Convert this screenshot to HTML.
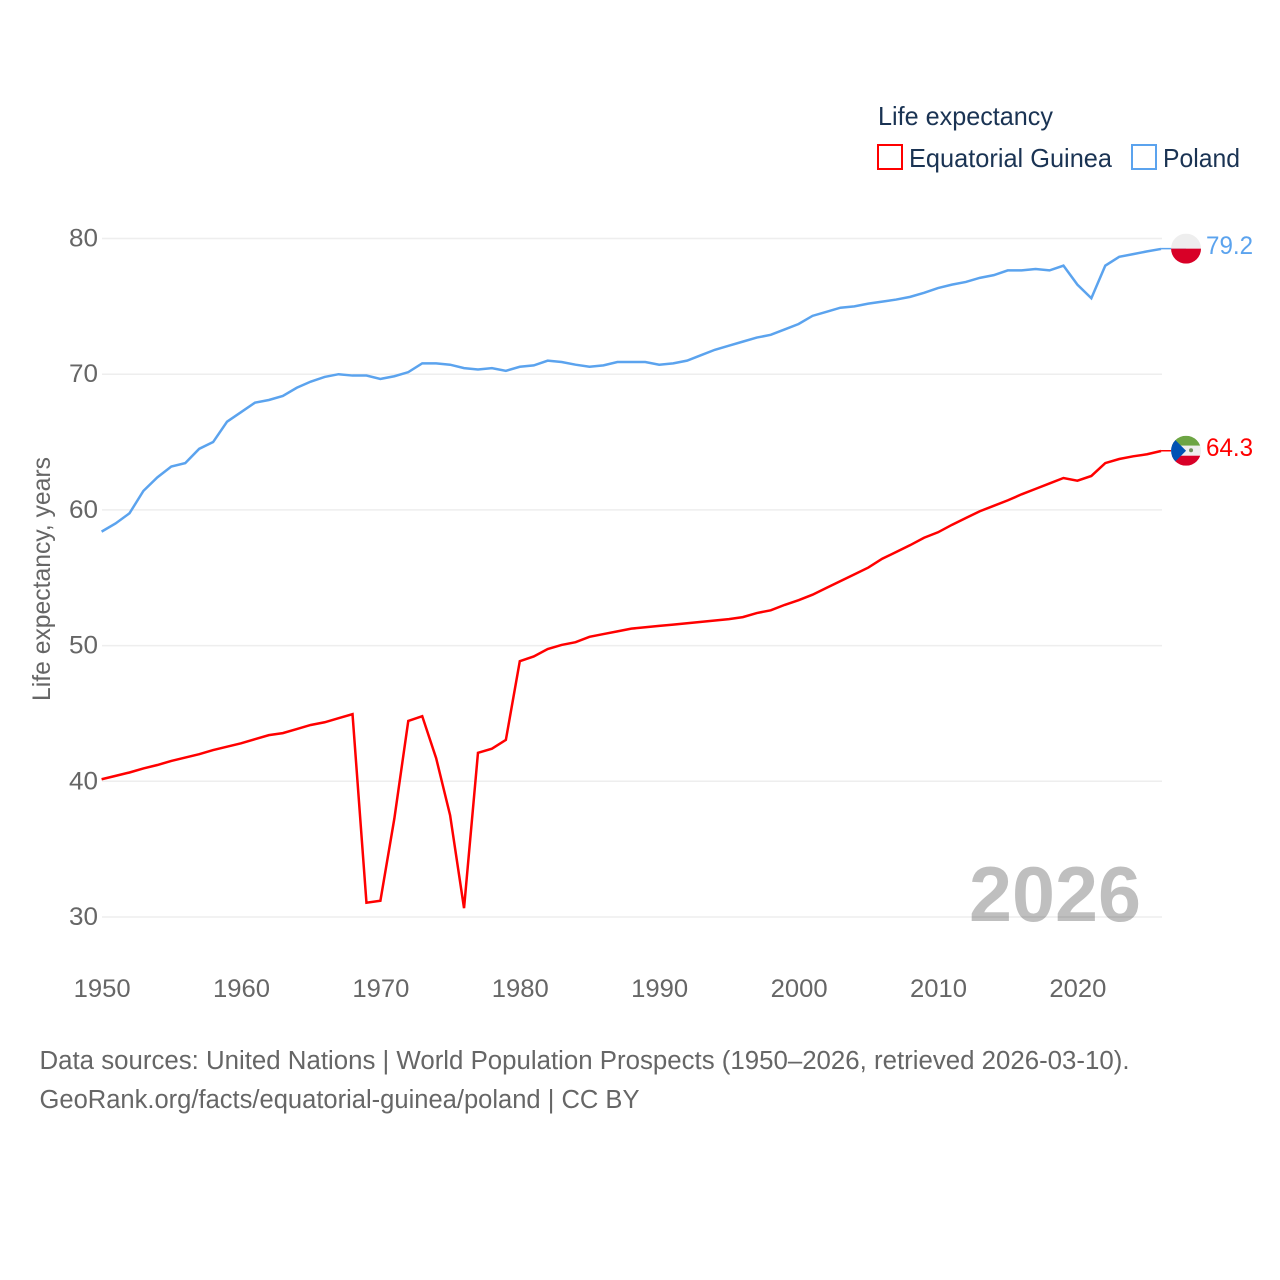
<!DOCTYPE html>
<html lang="en">
<head>
<meta charset="utf-8">
<title>Life expectancy: Equatorial Guinea and Poland</title>
<style>
  html, body { margin: 0; padding: 0; background: #fff; }
  svg { display: block; font-family: "Liberation Sans", sans-serif; }
</style>
</head>
<body>
<svg id="chart" xmlns="http://www.w3.org/2000/svg" width="1280" height="1280" viewBox="0 0 1280 1280">
  <rect x="0" y="0" width="1280" height="1280" fill="#ffffff"/>
  <defs>
    <clipPath id="clip-poland"><circle id="clip-poland-circle" r="15"/></clipPath>
    <clipPath id="clip-guinea"><circle id="clip-guinea-circle" r="15"/></clipPath>
  </defs>
  <g id="grid"></g>
  <g id="y-axis"></g>
  <g id="x-axis"></g>
  <text transform="translate(50,701) rotate(-90)" font-size="25" fill="#666666" textLength="244" lengthAdjust="spacingAndGlyphs">Life expectancy, years</text>
  <text x="969" y="921" font-size="78" font-weight="700" fill="#000000" fill-opacity="0.25" textLength="172" lengthAdjust="spacingAndGlyphs">2026</text>
  <g id="series"></g>
  <g id="endpoints"></g>

  <g>
    <text x="878" y="125" font-size="26" fill="#1a3353" textLength="175" lengthAdjust="spacingAndGlyphs">Life expectancy</text>
    <g>
      <rect x="878" y="145" width="24" height="24" fill="none" stroke="#ff0000" stroke-width="2"/>
      <text x="909" y="167" font-size="26" fill="#1a3353" textLength="203" lengthAdjust="spacingAndGlyphs">Equatorial Guinea</text>
    </g>
    <g>
      <rect x="1132" y="145" width="24" height="24" fill="none" stroke="#5ba3ee" stroke-width="2"/>
      <text x="1163" y="167" font-size="26" fill="#1a3353" textLength="77" lengthAdjust="spacingAndGlyphs">Poland</text>
    </g>
  </g>

  <g>
    <text x="39.5" y="1069" font-size="25.5" fill="#666666" textLength="1090" lengthAdjust="spacingAndGlyphs">Data sources: United Nations | World Population Prospects (1950–2026, retrieved 2026-03-10).</text>
    <text x="39.5" y="1108" font-size="25.5" fill="#666666" textLength="600" lengthAdjust="spacingAndGlyphs">GeoRank.org/facts/equatorial-guinea/poland | CC BY</text>
  </g>
</svg>
<script>
const years = [1950,1951,1952,1953,1954,1955,1956,1957,1958,1959,1960,1961,1962,1963,1964,1965,1966,1967,1968,1969,1970,1971,1972,1973,1974,1975,1976,1977,1978,1979,1980,1981,1982,1983,1984,1985,1986,1987,1988,1989,1990,1991,1992,1993,1994,1995,1996,1997,1998,1999,2000,2001,2002,2003,2004,2005,2006,2007,2008,2009,2010,2011,2012,2013,2014,2015,2016,2017,2018,2019,2020,2021,2022,2023,2024,2025,2026];
const polandValues = [58.4,59.0,59.75,61.4,62.4,63.2,63.45,64.5,65.0,66.5,67.2,67.9,68.1,68.4,69.0,69.45,69.8,70.0,69.9,69.9,69.65,69.85,70.15,70.8,70.8,70.7,70.45,70.35,70.45,70.25,70.55,70.65,71.0,70.9,70.7,70.55,70.65,70.9,70.9,70.9,70.7,70.8,71.0,71.4,71.8,72.1,72.4,72.7,72.9,73.3,73.7,74.3,74.6,74.9,75.0,75.2,75.35,75.5,75.7,76.0,76.35,76.6,76.8,77.1,77.3,77.65,77.65,77.75,77.65,78.0,76.6,75.6,78.0,78.65,78.85,79.05,79.23];
const guineaValues = [40.15,40.4,40.65,40.95,41.2,41.5,41.75,42.0,42.3,42.55,42.8,43.1,43.4,43.55,43.85,44.15,44.35,44.65,44.95,31.05,31.2,37.25,44.45,44.8,41.7,37.5,30.65,42.1,42.4,43.05,48.85,49.2,49.75,50.05,50.25,50.65,50.85,51.05,51.25,51.35,51.45,51.55,51.65,51.75,51.85,51.95,52.1,52.4,52.6,53.0,53.35,53.75,54.25,54.75,55.25,55.75,56.4,56.9,57.4,57.95,58.35,58.9,59.4,59.9,60.3,60.7,61.15,61.55,61.95,62.35,62.15,62.5,63.45,63.75,63.95,64.1,64.34];
const yTickValues = [30,40,50,60,70,80];
const xTickValues = [1950,1960,1970,1980,1990,2000,2010,2020];

const SVG_NS = 'http://www.w3.org/2000/svg';
const xScale = function (year) { return 101.6 + (year - 1950) * 13.94; };
const yScale = function (value) { return 917 - (value - 30) * 13.57; };

function svgEl(tag, attrs, parent) {
  const el = document.createElementNS(SVG_NS, tag);
  Object.keys(attrs).forEach(function (k) { el.setAttribute(k, attrs[k]); });
  parent.appendChild(el);
  return el;
}

const gridGroup = document.getElementById('grid');
const yAxisGroup = document.getElementById('y-axis');
yTickValues.forEach(function (v) {
  const line = svgEl('line', { x1: 102, x2: 1162, y1: yScale(v), y2: yScale(v), stroke: '#eeeeee', 'stroke-width': 1.5 }, gridGroup);
  
  
  const label = svgEl('text', { x: 98, y: yScale(v) + 8, 'text-anchor': 'end', 'font-size': 25, fill: '#666666', textLength: 29, lengthAdjust: 'spacingAndGlyphs' }, yAxisGroup);
  
  
  label.textContent = String(v);
});

const xAxisGroup = document.getElementById('x-axis');
xTickValues.forEach(function (t) {
  const label = svgEl('text', { x: xScale(t) - 28, y: 997, 'font-size': 25, fill: '#666666', textLength: 57, lengthAdjust: 'spacingAndGlyphs' }, xAxisGroup);
  
  
  label.textContent = String(t);
});

function linePoints(values) {
  return values.map(function (v, i) {
    return xScale(years[i]).toFixed(2) + ',' + yScale(v).toFixed(2);
  }).join(' ');
}

const seriesGroup = document.getElementById('series');
const polandLine = svgEl('polyline', { points: linePoints(polandValues), fill: 'none', stroke: '#5ba3ee', 'stroke-width': 2.5, 'stroke-linejoin': 'miter' }, seriesGroup);


const guineaLine = svgEl('polyline', { points: linePoints(guineaValues), fill: 'none', stroke: '#ff0000', 'stroke-width': 2.5, 'stroke-linejoin': 'miter' }, seriesGroup);



const endGroup = document.getElementById('endpoints');
const flagX = xScale(years[years.length - 1]) + 25;

// Poland end marker
const polandLast = polandValues[polandValues.length - 1];
const polandY = yScale(polandLast) - 0.3;
const polandLead = svgEl('line', { x1: xScale(years[years.length - 1]), x2: flagX, y1: polandY, y2: polandY, stroke: '#5ba3ee', 'stroke-width': 1.5 }, endGroup);


const clipP = document.getElementById('clip-poland-circle');
clipP.setAttribute('cx', flagX);
clipP.setAttribute('cy', polandY);
const polandFlag = svgEl('g', { 'clip-path': 'url(#clip-poland)' }, endGroup);


svgEl('rect', { x: flagX - 15, y: polandY - 15, width: 30, height: 15, fill: '#eeeeee' }, polandFlag);
svgEl('rect', { x: flagX - 15, y: polandY, width: 30, height: 15, fill: '#d80027' }, polandFlag);
const polandLabel = svgEl('text', { x: flagX + 20, y: polandY + 5.5, 'font-size': 25, fill: '#5ba3ee', textLength: 47, lengthAdjust: 'spacingAndGlyphs' }, endGroup);


polandLabel.textContent = polandLast.toFixed(1);

// Equatorial Guinea end marker
const guineaLast = guineaValues[guineaValues.length - 1];
const guineaY = yScale(guineaLast) - 0.3;
const guineaLead = svgEl('line', { x1: xScale(years[years.length - 1]), x2: flagX, y1: guineaY, y2: guineaY, stroke: '#ff0000', 'stroke-width': 1.5 }, endGroup);


const clipG = document.getElementById('clip-guinea-circle');
clipG.setAttribute('cx', flagX);
clipG.setAttribute('cy', guineaY);
const guineaFlag = svgEl('g', { 'clip-path': 'url(#clip-guinea)' }, endGroup);


svgEl('rect', { x: flagX - 15, y: guineaY - 15, width: 30, height: 10, fill: '#6da544' }, guineaFlag);
svgEl('rect', { x: flagX - 15, y: guineaY - 5, width: 30, height: 10, fill: '#eeeeee' }, guineaFlag);
svgEl('rect', { x: flagX - 15, y: guineaY + 5, width: 30, height: 10, fill: '#d80027' }, guineaFlag);
svgEl('polygon', { points: (flagX - 15) + ',' + (guineaY - 15) + ' ' + flagX + ',' + guineaY + ' ' + (flagX - 15) + ',' + (guineaY + 15), fill: '#0052b4' }, guineaFlag);
svgEl('circle', { cx: flagX + 5, cy: guineaY - 0.5, r: 2, fill: '#6d8f5a' }, guineaFlag);
const guineaLabel = svgEl('text', { x: flagX + 20, y: guineaY + 5.5, 'font-size': 25, fill: '#ff0000', textLength: 47, lengthAdjust: 'spacingAndGlyphs' }, endGroup);


guineaLabel.textContent = guineaLast.toFixed(1);
</script>
</body>
</html>
